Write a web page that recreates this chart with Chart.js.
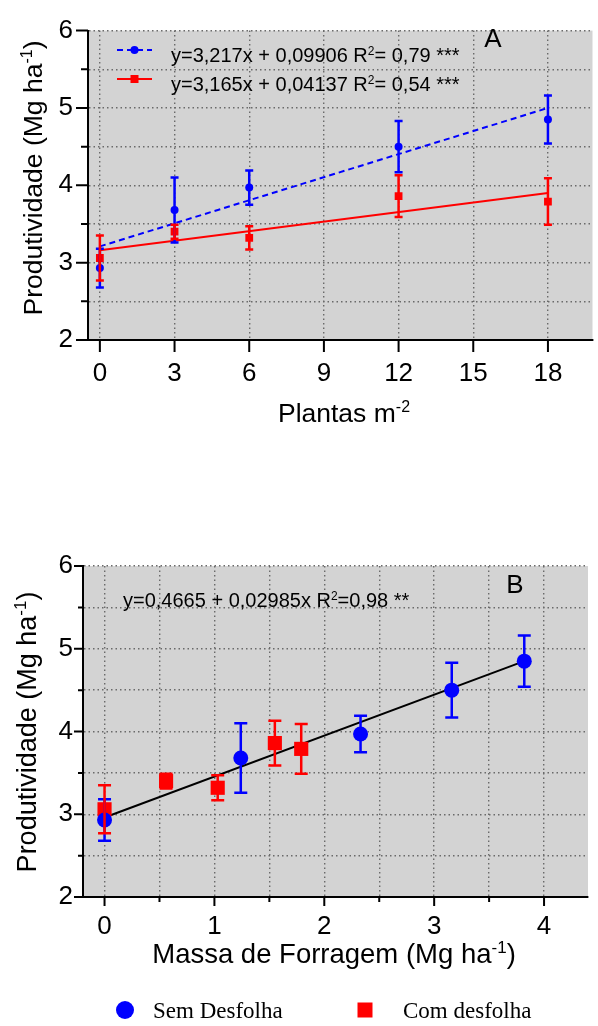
<!DOCTYPE html>
<html>
<head>
<meta charset="utf-8">
<script src="https://cdn.jsdelivr.net/npm/chart.js@4.4.1/dist/chart.umd.min.js"></script>
<style>
  html, body { margin: 0; padding: 0; background: #fff; }
  #wrap { position: relative; width: 598px; height: 1026px; overflow: hidden; }
  #graficoA { position: absolute; left: 0; top: 0; }
  #graficoB { position: absolute; left: 0; top: 530px; }
</style>
</head>
<body>
<div id="wrap">
  <canvas id="graficoA" width="598" height="450"></canvas>
  <canvas id="graficoB" width="598" height="496"></canvas>
</div>
<script>
// valores
const plantas = [0, 3, 6, 12, 18];
const massaSem = [0, 1.24, 2.33, 3.16, 3.82];
const massaCom = [0, 0.56, 1.03, 1.55, 1.79];
const prodSem = [2.93, 3.68, 3.97, 4.50, 4.85];
const erroSem = [0.25, 0.42, 0.22, 0.33, 0.31];
const prodCom = [3.06, 3.40, 3.32, 3.86, 3.79];
const erroCom = [0.29, 0.09, 0.15, 0.27, 0.30];

// retas de regressao (extremos)
const retaAx = [0, 18];
const retaSemAy = [3.21, 5.00];
const retaComAy = [3.16, 3.90];
const retaBx = [0, 3.82];
const retaBy = [2.96, 4.85];

// ticks
const ticksY = [2, 2.5, 3, 3.5, 4, 4.5, 5, 5.5, 6];
const ticksXA = [0, 3, 6, 9, 12, 15, 18];
const ticksXB = [0, 0.5, 1, 1.5, 2, 2.5, 3, 3.5, 4];

// textos
const tituloY = [['Produtividade (Mg ha', 0], ['-1', 1], [')', 0]];
const tituloXA = [['Plantas m', 0], ['-2', 1]];
const tituloXB = [['Massa de Forragem (Mg ha', 0], ['-1', 1], [')', 0]];
const eqSem = [['y=3,217x + 0,09906 R', 0], ['2', 1], ['= 0,79 ***', 0]];
const eqCom = [['y=3,165x + 0,04137 R', 0], ['2', 1], ['= 0,54 ***', 0]];
const eqB = [['y=0,4665 + 0,02985x R', 0], ['2', 1], ['=0,98 **', 0]];
const nomes = ['Sem Desfolha', 'Com desfolha'];

const AZUL = '#0000ff', VERMELHO = '#ff0000';
const SANS = '"Liberation Sans", Arial, sans-serif';

function pts(xs, ys) { return xs.map((x, i) => ({ x: x, y: ys[i] })); }

function textoRico(ctx, partes, x, y, tam, centro) {
  const sup = Math.round(tam * 0.62);
  let total = 0;
  partes.forEach(([t, s]) => { ctx.font = (s ? sup : tam) + 'px ' + SANS; total += ctx.measureText(t).width; });
  let cx = centro ? x - total / 2 : x;
  ctx.textAlign = 'left';
  ctx.textBaseline = 'alphabetic';
  partes.forEach(([t, s]) => {
    ctx.font = (s ? sup : tam) + 'px ' + SANS;
    ctx.fillText(t, cx, s ? y - tam * 0.36 : y);
    cx += ctx.measureText(t).width;
  });
}

// fundo cinza da area do grafico
const fundo = {
  id: 'fundo',
  beforeDraw(chart) {
    const { ctx, chartArea: a } = chart;
    ctx.save();
    ctx.fillStyle = '#d3d3d3';
    ctx.fillRect(a.left, a.top, a.right - a.left, a.bottom - a.top);
    ctx.restore();
  }
};

// barras de erro
const barrasErro = {
  id: 'barrasErro',
  afterDatasetsDraw(chart) {
    const { ctx, scales: { x, y } } = chart;
    const o = chart.options.plugins.barrasErro;
    chart.data.datasets.forEach((ds) => {
      if (!ds.erros) return;
      ctx.save();
      ctx.strokeStyle = ds.borderColor;
      ctx.lineWidth = o.largura;
      ds.data.forEach((p, i) => {
        const px = x.getPixelForValue(p.x);
        const y1 = y.getPixelForValue(p.y + ds.erros[i]);
        const y2 = y.getPixelForValue(p.y - ds.erros[i]);
        ctx.beginPath();
        ctx.moveTo(px, y1); ctx.lineTo(px, y2);
        ctx.moveTo(px - o.cap, y1); ctx.lineTo(px + o.cap, y1);
        ctx.moveTo(px - o.cap, y2); ctx.lineTo(px + o.cap, y2);
        ctx.stroke();
      });
      ctx.restore();
    });
  }
};

// marcas dos eixos (maiores e menores)
const marcas = {
  id: 'marcas',
  afterDraw(chart) {
    const { ctx, scales: { x, y } } = chart;
    const o = chart.options.plugins.marcas;
    ctx.save();
    ctx.strokeStyle = '#000';
    ctx.lineWidth = 2;
    ctx.beginPath();
    x.ticks.forEach(t => {
      const px = x.getPixelForValue(t.value);
      const l = Number.isInteger(t.value) ? o.maior : o.menor;
      ctx.moveTo(px, x.top); ctx.lineTo(px, x.top + l);
    });
    y.ticks.forEach(t => {
      const py = y.getPixelForValue(t.value);
      const l = Number.isInteger(t.value) ? o.maiorY : o.menor;
      ctx.moveTo(y.right, py); ctx.lineTo(y.right - l, py);
    });
    ctx.stroke();
    ctx.restore();
  }
};

function escalas(c) {
  const fonteTick = { family: SANS, size: 26 };
  return {
    x: {
      type: 'linear', min: c.xMin, max: c.xMax,
      afterBuildTicks: s => { s.ticks = c.xTicks.map(v => ({ value: v })); },
      afterFit: s => { s.height = c.xAltura; },
      ticks: { autoSkip: false, maxRotation: 0, padding: c.xPad, color: '#000', font: fonteTick,
               callback: v => Number.isInteger(v) ? String(v) : '' },
      grid: { color: '#6a6a6a', lineWidth: 1.4, drawTicks: false },
      border: { display: true, color: '#000', width: 2, dash: [1.5, 3] }
    },
    y: {
      type: 'linear', min: 2, max: 6,
      afterBuildTicks: s => { s.ticks = ticksY.map(v => ({ value: v })); },
      afterFit: s => { s.width = c.yLargura; },
      ticks: { autoSkip: false, padding: c.yPad, color: '#000', font: fonteTick,
               callback: v => Number.isInteger(v) ? String(v) : '' },
      grid: { color: '#6a6a6a', lineWidth: 1.4, drawTicks: false },
      border: { display: true, color: '#000', width: 2, dash: [1.5, 3] }
    }
  };
}

// Grafico A
const textosA = {
  id: 'textosA',
  afterDraw(chart) {
    const ctx = chart.ctx;
    ctx.save();
    ctx.fillStyle = '#000';
    ctx.save();
    ctx.translate(42, 178);
    ctx.rotate(-Math.PI / 2);
    textoRico(ctx, tituloY, 0, 0, 26.5, true);
    ctx.restore();
    textoRico(ctx, tituloXA, 344, 422, 26.5, true);
    ctx.font = '26px ' + SANS;
    ctx.textAlign = 'center';
    ctx.fillText('A', 493, 47);
    // legenda
    ctx.lineWidth = 2;
    ctx.strokeStyle = AZUL;
    ctx.setLineDash([6, 4]);
    ctx.beginPath(); ctx.moveTo(117, 50); ctx.lineTo(152, 50); ctx.stroke();
    ctx.setLineDash([]);
    ctx.fillStyle = AZUL;
    ctx.beginPath(); ctx.arc(134.5, 50, 4, 0, Math.PI * 2); ctx.fill();
    ctx.strokeStyle = VERMELHO;
    ctx.beginPath(); ctx.moveTo(117, 79); ctx.lineTo(152, 79); ctx.stroke();
    ctx.fillStyle = VERMELHO;
    ctx.fillRect(130.5, 75, 8, 8);
    ctx.fillStyle = '#000';
    textoRico(ctx, eqSem, 171, 62, 20, false);
    textoRico(ctx, eqCom, 171, 91, 20, false);
    ctx.restore();
  }
};

new Chart(document.getElementById('graficoA'), {
  type: 'scatter',
  data: {
    datasets: [
      { label: nomes[0], data: pts(plantas, prodSem), erros: erroSem, pointStyle: 'circle', pointRadius: 4,
        backgroundColor: AZUL, borderColor: AZUL, pointBorderWidth: 0, order: 0 },
      { label: nomes[1], data: pts(plantas, prodCom), erros: erroCom, pointStyle: 'rect', pointRadius: 5.5,
        backgroundColor: VERMELHO, borderColor: VERMELHO, pointBorderWidth: 0, order: 1 },
      { data: pts(retaAx, retaSemAy), showLine: true, pointRadius: 0, borderColor: AZUL, borderWidth: 2,
        borderDash: [6, 4], order: 2 },
      { data: pts(retaAx, retaComAy), showLine: true, pointRadius: 0, borderColor: VERMELHO, borderWidth: 2, order: 3 }
    ]
  },
  options: {
    responsive: false, animation: false, devicePixelRatio: 1,
    layout: { padding: { top: 19, left: 0, right: 0, bottom: 0 } },
    scales: escalas({ xMin: -0.477, xMax: 19.79, xTicks: ticksXA, xAltura: 110, xPad: 18, yLargura: 88, yPad: 15 }),
    plugins: {
      legend: { display: false }, tooltip: { enabled: false },
      barrasErro: { largura: 2.5, cap: 4 },
      marcas: { maior: 12, maiorY: 12, menor: 7 }
    }
  },
  plugins: [fundo, barrasErro, marcas, textosA]
});

// Grafico B
const textosB = {
  id: 'textosB',
  afterDraw(chart) {
    const ctx = chart.ctx;
    ctx.save();
    ctx.fillStyle = '#000';
    ctx.save();
    ctx.translate(36, 202);
    ctx.rotate(-Math.PI / 2);
    textoRico(ctx, tituloY, 0, 0, 27, true);
    ctx.restore();
    textoRico(ctx, tituloXB, 334, 433, 27.5, true);
    ctx.font = '26px ' + SANS;
    ctx.textAlign = 'center';
    ctx.fillText('B', 515, 63);
    textoRico(ctx, eqB, 123, 77, 20, false);
    // legenda inferior
    ctx.fillStyle = AZUL;
    ctx.beginPath(); ctx.arc(125, 480, 9, 0, Math.PI * 2); ctx.fill();
    ctx.fillStyle = VERMELHO;
    ctx.fillRect(357.5, 472.5, 15, 15);
    ctx.fillStyle = '#000';
    ctx.font = '23px "Liberation Serif", "Times New Roman", serif';
    ctx.textAlign = 'left';
    ctx.textBaseline = 'alphabetic';
    ctx.fillText(nomes[0], 153, 488);
    ctx.fillText(nomes[1], 403, 488);
    ctx.restore();
  }
};

new Chart(document.getElementById('graficoB'), {
  type: 'scatter',
  data: {
    datasets: [
      { label: nomes[0], data: pts(massaSem, prodSem), erros: erroSem, pointStyle: 'circle', pointRadius: 7.5,
        backgroundColor: AZUL, borderColor: AZUL, pointBorderWidth: 0, order: 0 },
      { label: nomes[1], data: pts(massaCom, prodCom), erros: erroCom, pointStyle: 'rect', pointRadius: 10,
        backgroundColor: VERMELHO, borderColor: VERMELHO, pointBorderWidth: 0, order: 1 },
      { data: pts(retaBx, retaBy), showLine: true, pointRadius: 0, borderColor: '#000', borderWidth: 2, order: 2 }
    ]
  },
  options: {
    responsive: false, animation: false, devicePixelRatio: 1,
    layout: { padding: { top: 36, left: 0, right: 0, bottom: 0 } },
    scales: escalas({ xMin: -0.196, xMax: 4.40, xTicks: ticksXB, xAltura: 129, xPad: 14, yLargura: 83, yPad: 10 }),
    plugins: {
      legend: { display: false }, tooltip: { enabled: false },
      barrasErro: { largura: 2.5, cap: 6.5 },
      marcas: { maior: 9, maiorY: 9, menor: 5 }
    }
  },
  plugins: [fundo, barrasErro, marcas, textosB]
});
</script>
</body>
</html>
